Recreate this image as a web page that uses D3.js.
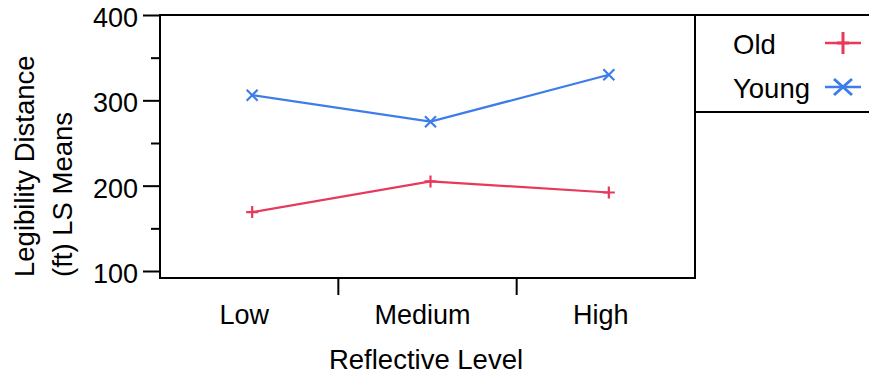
<!DOCTYPE html>
<html>
<head>
<meta charset="utf-8">
<script src="https://cdn.jsdelivr.net/npm/d3@7/dist/d3.min.js"></script>
<style>
  html, body { margin: 0; padding: 0; background: #fff; }
  svg { display: block; }
  text { font-family: "Liberation Sans", Arial, sans-serif; fill: #000; }
</style>
</head>
<body>
<svg id="chart" width="869" height="375"></svg>
<script>
const categories = ["Low", "Medium", "High"];
const oldValues = [169, 205, 192];
const youngValues = [306, 275, 330];
const yTicks = [100, 200, 300, 400];
const yMinorTicks = [150, 250, 350];
const seriesNames = ["Old", "Young"];
const seriesColors = ["#E8395C", "#3D7DEA"];

const svg = d3.select("#chart");
const pL = 160, pR = 695, pT = 15, pB = 278;
const FONT = "'Liberation Sans', Arial, sans-serif";

const x = d3.scaleBand().domain(categories).range([pL, pR]).padding(0);
const y = d3.scaleLinear().domain([91.8, 400]).range([pB, pT]);

// frame
svg.append("rect").attr("x", pL).attr("y", pT).attr("width", pR - pL).attr("height", pB - pT)
  .attr("fill", "none").attr("stroke", "#000").attr("stroke-width", 2);

// y axis
const yAxis = svg.append("g").attr("transform", `translate(${pL},0)`)
  .call(d3.axisLeft(y).tickValues(yTicks).tickSize(17).tickPadding(5).tickFormat(d3.format("d")));
yAxis.select(".domain").remove();
yAxis.selectAll(".tick line").attr("stroke", "#000").attr("stroke-width", 2);
yAxis.selectAll(".tick text").style("font-size", "27px").style("font-family", FONT).attr("fill", "#000").attr("dy", "0.42em");
const yMinor = svg.append("g").attr("transform", `translate(${pL},0)`)
  .call(d3.axisLeft(y).tickValues(yMinorTicks).tickSize(9).tickFormat(""));
yMinor.select(".domain").remove();
yMinor.selectAll(".tick line").attr("stroke", "#000").attr("stroke-width", 2);

// x axis
const xAxis = svg.append("g").attr("transform", `translate(0,${pB})`)
  .call(d3.axisBottom(x).tickSize(0).tickPadding(27));
xAxis.select(".domain").remove();
xAxis.selectAll(".tick text").style("font-size", "27px").style("font-family", FONT).attr("fill", "#000").attr("dx", "-5");
// category divider ticks
svg.append("g").selectAll("line").data(categories.slice(1)).join("line")
  .attr("x1", d => x(d)).attr("x2", d => x(d)).attr("y1", pB).attr("y2", pB + 17)
  .attr("stroke", "#000").attr("stroke-width", 2);

// titles
svg.append("text").attr("x", 426).attr("y", 369).attr("text-anchor", "middle")
  .style("font-size", "27.5px").text("Reflective Level");
svg.append("text").attr("transform", "translate(34,277) rotate(-90)").attr("text-anchor", "start")
  .style("font-size", "27.5px").text("Legibility Distance");
svg.append("text").attr("transform", "translate(72,277) rotate(-90)").attr("text-anchor", "start")
  .style("font-size", "27.5px").text("(ft) LS Means");

// markers
function plusPath(cx, cy, w, h) { return `M${cx - w},${cy}H${cx + w}M${cx},${cy - h}V${cy + h}`; }
function crossPath(cx, cy, w, h) { return `M${cx - w},${cy - h}L${cx + w},${cy + h}M${cx - w},${cy + h}L${cx + w},${cy - h}`; }

const cx = d => x(d) + x.bandwidth() / 2 + 3;
const line = d3.line().x(d => cx(d.c)).y(d => y(d.v));

const series = [
  { name: seriesNames[0], color: seriesColors[0], data: categories.map((c, i) => ({ c, v: oldValues[i] })), marker: "plus" },
  { name: seriesNames[1], color: seriesColors[1], data: categories.map((c, i) => ({ c, v: youngValues[i] })), marker: "cross" }
];

series.forEach(s => {
  svg.append("path").attr("d", line(s.data)).attr("fill", "none").attr("stroke", s.color).attr("stroke-width", 2.2);
  svg.append("g").selectAll("path").data(s.data).join("path")
    .attr("d", d => s.marker === "plus" ? plusPath(cx(d.c), y(d.v), 6, 6) : crossPath(cx(d.c), y(d.v), 5.5, 5.5))
    .attr("stroke", s.color).attr("stroke-width", 2.2).attr("fill", "none");
});

// legend box
svg.append("path").attr("d", `M${pR},${pT}H869M${pR},112H869`).attr("stroke", "#000").attr("stroke-width", 2).attr("fill", "none");
const legY = [43, 87];
series.forEach((s, i) => {
  svg.append("text").attr("x", 733).attr("y", legY[i] + 11).style("font-size", "27.5px").text(s.name);
  svg.append("line").attr("x1", 825).attr("x2", 861).attr("y1", legY[i]).attr("y2", legY[i])
    .attr("stroke", s.color).attr("stroke-width", 2.5);
  svg.append("path").attr("d", s.marker === "plus" ? plusPath(843, legY[i], 6, 11) : crossPath(843, legY[i], 9, 8))
    .attr("stroke", s.color).attr("stroke-width", 3).attr("fill", "none");
});
</script>
</body>
</html>
